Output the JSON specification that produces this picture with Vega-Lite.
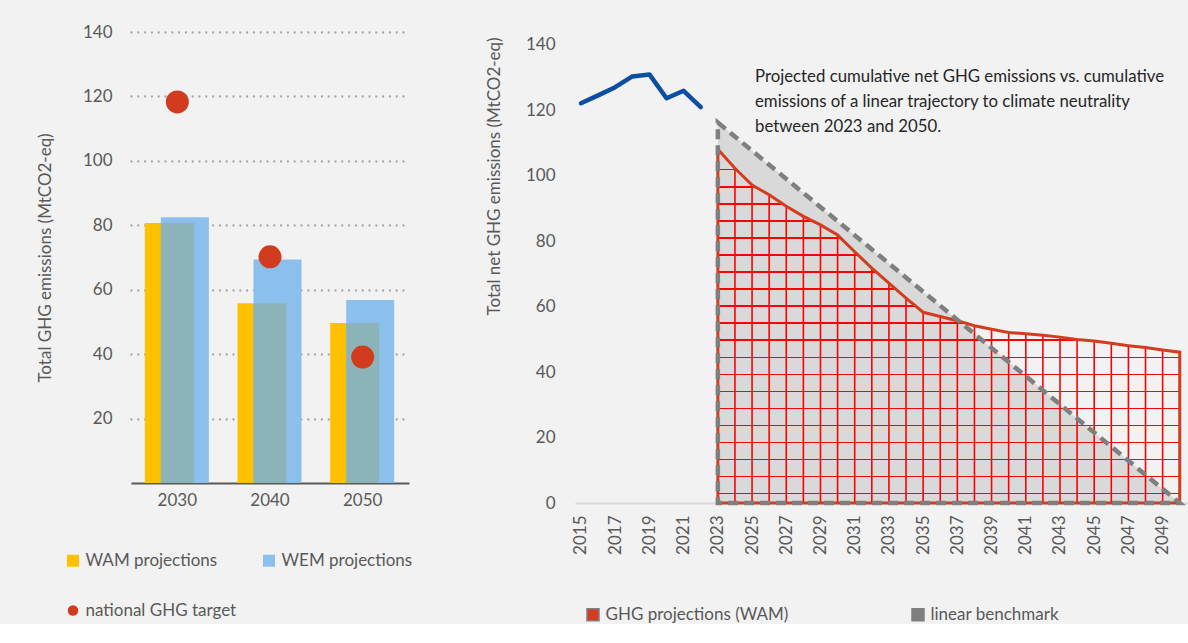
{
  "$schema": "https://vega.github.io/schema/vega-lite/v6.json",
  "background": "#f2f2f2",
  "padding": {"left": 36, "top": 23, "right": 0, "bottom": 0},
  "spacing": 76,
  "config": {
    "font": "Lato",
    "view": {"stroke": null},
    "axis": {"labelFont": "Lato", "labelFontSize": 17, "labelColor": "#595959", "titleFont": "Lato", "titleFontSize": 17, "titleFontWeight": "normal", "titleColor": "#595959", "ticks": false, "tickSize": 0},
    "legend": {"labelFont": "Lato", "labelFontSize": 17, "labelColor": "#595959", "symbolType": "square", "title": null, "labelLimit": 400}
  },
  "hconcat": [
    {
      "width": 278,
      "height": 451,
      "data": {"values": [
        {"year": "2030", "series": "WAM projections", "value": 80.7},
        {"year": "2040", "series": "WAM projections", "value": 55.8},
        {"year": "2050", "series": "WAM projections", "value": 49.7},
        {"year": "2030", "series": "WEM projections", "value": 82.5},
        {"year": "2040", "series": "WEM projections", "value": 69.4},
        {"year": "2050", "series": "WEM projections", "value": 56.8},
        {"year": "2030", "series": "national GHG target", "value": 118.3},
        {"year": "2040", "series": "national GHG target", "value": 70.2},
        {"year": "2050", "series": "national GHG target", "value": 39.1}
      ]},
      "encoding": {
        "x": {"field": "year", "type": "ordinal", "scale": {"paddingInner": 0, "paddingOuter": 0},
              "axis": {"title": null, "labelAngle": 0, "domainColor": "#595959", "domainWidth": 2, "labelPadding": 9, "grid": false}},
        "y": {"field": "value", "type": "quantitative", "scale": {"domain": [0, 140], "nice": false},
              "axis": {"title": "Total GHG emissions (MtCO2-eq)", "values": [20, 40, 60, 80, 100, 120, 140], "domain": false, "grid": true, "gridColor": "#a6a6a6", "gridDash": [0, 6.8], "gridCap": "round", "gridWidth": 2.3, "labelPadding": 19, "titlePadding": 28}}
      },
      "layer": [
        {
          "transform": [{"filter": "datum.series === 'WAM projections'"}],
          "mark": {"type": "bar", "width": 49, "xOffset": -8},
          "encoding": {"color": {"field": "series", "type": "nominal",
            "scale": {"domain": ["WAM projections", "WEM projections", "national GHG target"], "range": ["#ffc000", "#8cc0ec", "#d13b1e"]},
            "legend": {"orient": "none", "legendX": -66.5, "legendY": 520, "direction": "horizontal", "columns": 2, "columnPadding": 24, "rowPadding": 32, "labelOffset": 4, "symbolSize": 144,
              "encode": {"symbols": {"update": {
                "shape": {"signal": "datum.value === 'national GHG target' ? 'circle' : 'square'"},
                "size": {"signal": "datum.value === 'national GHG target' ? 110 : 144"},
                "opacity": {"value": 1}, "strokeWidth": {"value": 0}}}}}}}
        },
        {
          "transform": [{"filter": "datum.series === 'WEM projections'"}],
          "mark": {"type": "bar", "width": 48, "xOffset": 7.5},
          "encoding": {"color": {"field": "series", "type": "nominal"}}
        },
        {
          "transform": [{"filter": "datum.series === 'WAM projections'"}],
          "mark": {"type": "bar", "width": 33, "color": "#8cb4b8"}
        },
        {
          "transform": [{"filter": "datum.series === 'national GHG target'"}],
          "mark": {"type": "circle", "size": 530, "opacity": 1},
          "encoding": {"color": {"field": "series", "type": "nominal"}}
        }
      ]
    },
    {
      "width": 615,
      "height": 471,
      "title": {"text": ["Projected cumulative net GHG emissions vs. cumulative", "emissions of a linear trajectory to climate neutrality", "between 2023 and 2050."], "anchor": "start", "frame": "group", "orient": "top", "offset": 0, "dx": 180, "dy": 104, "baseline": "top", "fontSize": 16.8, "fontWeight": "normal", "color": "#262626", "lineHeight": 25, "font": "Lato"},
      "data": {"values": [
        {"year": 2015, "series": "historical", "value": 122.2},
        {"year": 2016, "series": "historical", "value": 124.6},
        {"year": 2017, "series": "historical", "value": 127.1},
        {"year": 2018, "series": "historical", "value": 130.4},
        {"year": 2019, "series": "historical", "value": 131.0},
        {"year": 2020, "series": "historical", "value": 123.7},
        {"year": 2021, "series": "historical", "value": 126.0},
        {"year": 2022, "series": "historical", "value": 121.0},
        {"year": 2023, "series": "WAM", "value": 108.1},
        {"year": 2024, "series": "WAM", "value": 102.3},
        {"year": 2025, "series": "WAM", "value": 97.2},
        {"year": 2026, "series": "WAM", "value": 94.2},
        {"year": 2027, "series": "WAM", "value": 90.7},
        {"year": 2028, "series": "WAM", "value": 87.6},
        {"year": 2029, "series": "WAM", "value": 85.0},
        {"year": 2030, "series": "WAM", "value": 81.9},
        {"year": 2031, "series": "WAM", "value": 76.8},
        {"year": 2032, "series": "WAM", "value": 71.8},
        {"year": 2033, "series": "WAM", "value": 67.2},
        {"year": 2034, "series": "WAM", "value": 62.6},
        {"year": 2035, "series": "WAM", "value": 58.3},
        {"year": 2036, "series": "WAM", "value": 57.0},
        {"year": 2037, "series": "WAM", "value": 55.7},
        {"year": 2038, "series": "WAM", "value": 54.2},
        {"year": 2039, "series": "WAM", "value": 53.1},
        {"year": 2040, "series": "WAM", "value": 52.1},
        {"year": 2041, "series": "WAM", "value": 51.7},
        {"year": 2042, "series": "WAM", "value": 51.3},
        {"year": 2043, "series": "WAM", "value": 50.7},
        {"year": 2044, "series": "WAM", "value": 50.0},
        {"year": 2045, "series": "WAM", "value": 49.5},
        {"year": 2046, "series": "WAM", "value": 48.8},
        {"year": 2047, "series": "WAM", "value": 48.1},
        {"year": 2048, "series": "WAM", "value": 47.5},
        {"year": 2049, "series": "WAM", "value": 46.8},
        {"year": 2050, "series": "WAM", "value": 46.1},
        {"year": 2023, "series": "benchmark", "value": 116.3},
        {"year": 2050, "series": "benchmark", "value": 0}
      ]},
      "encoding": {
        "x": {"field": "year", "type": "quantitative", "scale": {"domain": [2014.65, 2050.6], "nice": false, "zero": false},
              "axis": {"title": null, "values": [2015, 2017, 2019, 2021, 2023, 2025, 2027, 2029, 2031, 2033, 2035, 2037, 2039, 2041, 2043, 2045, 2047, 2049], "format": "d", "labelAngle": -90, "grid": false, "domainColor": "#d9d9d9", "domainWidth": 2, "labelPadding": 12}},
        "y": {"field": "value", "type": "quantitative", "scale": {"domain": [0, 143.97], "nice": false},
              "axis": {"title": "Total net GHG emissions  (MtCO2-eq)", "values": [0, 20, 40, 60, 80, 100, 120, 140], "domain": false, "grid": false, "labelPadding": 20, "titlePadding": 22, "titleAnchor": "end", "titleY": 5}}
      },
      "layer": [
        {
          "data": {"values": [{"panel": "plot area"}]},
          "mark": {"type": "rect", "fill": "white"},
          "encoding": {"x": {"datum": 2014.65, "type": "quantitative"}, "x2": {"datum": 2050.6}, "y": {"datum": 0, "type": "quantitative"}, "y2": {"datum": 140}}
        },
        {
          "transform": [{"filter": "datum.series === 'benchmark'"}],
          "mark": {"type": "area", "fill": "#d9d9d9"}
        },
        {
          "transform": [{"filter": "datum.series === 'WAM'"}],
          "mark": {"type": "rule", "color": "#ff0000", "strokeWidth": 1.6},
          "encoding": {"y2": {"datum": 0}}
        },
        {
          "transform": [{"filter": "datum.series === 'WAM'"}],
          "mark": {"type": "area", "strokeWidth": 3, "stroke": "#d33c1e", "fill": {"gradient": "linear", "x1": 0, "y1": 0, "x2": 0, "y2": 1, "stops": [
            {"offset": 0, "color": "rgba(255,0,0,0)"},
            {"offset": 0.0072, "color": "rgba(255,0,0,0)"}, {"offset": 0.0072, "color": "#ff0000"}, {"offset": 0.0115, "color": "#ff0000"}, {"offset": 0.0115, "color": "rgba(255,0,0,0)"},
            {"offset": 0.0554, "color": "rgba(255,0,0,0)"}, {"offset": 0.0554, "color": "#ff0000"}, {"offset": 0.0597, "color": "#ff0000"}, {"offset": 0.0597, "color": "rgba(255,0,0,0)"},
            {"offset": 0.1037, "color": "rgba(255,0,0,0)"}, {"offset": 0.1037, "color": "#ff0000"}, {"offset": 0.1079, "color": "#ff0000"}, {"offset": 0.1079, "color": "rgba(255,0,0,0)"},
            {"offset": 0.1519, "color": "rgba(255,0,0,0)"}, {"offset": 0.1519, "color": "#ff0000"}, {"offset": 0.1561, "color": "#ff0000"}, {"offset": 0.1561, "color": "rgba(255,0,0,0)"},
            {"offset": 0.2001, "color": "rgba(255,0,0,0)"}, {"offset": 0.2001, "color": "#ff0000"}, {"offset": 0.2043, "color": "#ff0000"}, {"offset": 0.2043, "color": "rgba(255,0,0,0)"},
            {"offset": 0.2483, "color": "rgba(255,0,0,0)"}, {"offset": 0.2483, "color": "#ff0000"}, {"offset": 0.2525, "color": "#ff0000"}, {"offset": 0.2525, "color": "rgba(255,0,0,0)"},
            {"offset": 0.2965, "color": "rgba(255,0,0,0)"}, {"offset": 0.2965, "color": "#ff0000"}, {"offset": 0.3007, "color": "#ff0000"}, {"offset": 0.3007, "color": "rgba(255,0,0,0)"},
            {"offset": 0.3448, "color": "rgba(255,0,0,0)"}, {"offset": 0.3448, "color": "#ff0000"}, {"offset": 0.3490, "color": "#ff0000"}, {"offset": 0.3490, "color": "rgba(255,0,0,0)"},
            {"offset": 0.3930, "color": "rgba(255,0,0,0)"}, {"offset": 0.3930, "color": "#ff0000"}, {"offset": 0.3972, "color": "#ff0000"}, {"offset": 0.3972, "color": "rgba(255,0,0,0)"},
            {"offset": 0.4412, "color": "rgba(255,0,0,0)"}, {"offset": 0.4412, "color": "#ff0000"}, {"offset": 0.4454, "color": "#ff0000"}, {"offset": 0.4454, "color": "rgba(255,0,0,0)"},
            {"offset": 0.4894, "color": "rgba(255,0,0,0)"}, {"offset": 0.4894, "color": "#ff0000"}, {"offset": 0.4936, "color": "#ff0000"}, {"offset": 0.4936, "color": "rgba(255,0,0,0)"},
            {"offset": 0.5376, "color": "rgba(255,0,0,0)"}, {"offset": 0.5376, "color": "#ff0000"}, {"offset": 0.5418, "color": "#ff0000"}, {"offset": 0.5418, "color": "rgba(255,0,0,0)"},
            {"offset": 0.5859, "color": "rgba(255,0,0,0)"}, {"offset": 0.5859, "color": "#ff0000"}, {"offset": 0.5901, "color": "#ff0000"}, {"offset": 0.5901, "color": "rgba(255,0,0,0)"},
            {"offset": 0.6341, "color": "rgba(255,0,0,0)"}, {"offset": 0.6341, "color": "#ff0000"}, {"offset": 0.6383, "color": "#ff0000"}, {"offset": 0.6383, "color": "rgba(255,0,0,0)"},
            {"offset": 0.6823, "color": "rgba(255,0,0,0)"}, {"offset": 0.6823, "color": "#ff0000"}, {"offset": 0.6865, "color": "#ff0000"}, {"offset": 0.6865, "color": "rgba(255,0,0,0)"},
            {"offset": 0.7305, "color": "rgba(255,0,0,0)"}, {"offset": 0.7305, "color": "#ff0000"}, {"offset": 0.7347, "color": "#ff0000"}, {"offset": 0.7347, "color": "rgba(255,0,0,0)"},
            {"offset": 0.7787, "color": "rgba(255,0,0,0)"}, {"offset": 0.7787, "color": "#ff0000"}, {"offset": 0.7829, "color": "#ff0000"}, {"offset": 0.7829, "color": "rgba(255,0,0,0)"},
            {"offset": 0.8269, "color": "rgba(255,0,0,0)"}, {"offset": 0.8269, "color": "#ff0000"}, {"offset": 0.8311, "color": "#ff0000"}, {"offset": 0.8311, "color": "rgba(255,0,0,0)"},
            {"offset": 0.8752, "color": "rgba(255,0,0,0)"}, {"offset": 0.8752, "color": "#ff0000"}, {"offset": 0.8794, "color": "#ff0000"}, {"offset": 0.8794, "color": "rgba(255,0,0,0)"},
            {"offset": 0.9234, "color": "rgba(255,0,0,0)"}, {"offset": 0.9234, "color": "#ff0000"}, {"offset": 0.9276, "color": "#ff0000"}, {"offset": 0.9276, "color": "rgba(255,0,0,0)"},
            {"offset": 0.9716, "color": "rgba(255,0,0,0)"}, {"offset": 0.9716, "color": "#ff0000"}, {"offset": 0.9758, "color": "#ff0000"}, {"offset": 0.9758, "color": "rgba(255,0,0,0)"},
            {"offset": 1, "color": "rgba(255,0,0,0)"}
          ]}}
        },
        {
          "transform": [{"filter": "datum.series === 'benchmark'"}],
          "mark": {"type": "area", "fillOpacity": 0, "stroke": "#7f7f7f", "strokeWidth": 4.5, "strokeDash": [10, 6]},
          "encoding": {"fill": {"datum": "linear benchmark", "type": "nominal",
            "scale": {"domain": ["GHG projections (WAM)", "linear benchmark"], "range": ["#d33c1e", "#7f7f7f"]},
            "legend": {"orient": "none", "legendX": 453.5, "legendY": 574, "direction": "horizontal", "columnPadding": 120, "labelOffset": 4, "symbolSize": 144,
              "encode": {"symbols": {"update": {
                "fillOpacity": {"value": 1}, "opacity": {"value": 1},
                "strokeDash": {"value": [1, 0]}, "strokeWidth": {"value": 0},
                "shape": {"value": "square"}, "size": {"value": 144}}}}}}}
        },
        {
          "transform": [{"filter": "datum.series === 'historical'"}],
          "mark": {"type": "line", "color": "#0b4ea2", "strokeWidth": 4.5, "strokeCap": "round", "strokeJoin": "round"}
        }
      ]
    }
  ]
}
